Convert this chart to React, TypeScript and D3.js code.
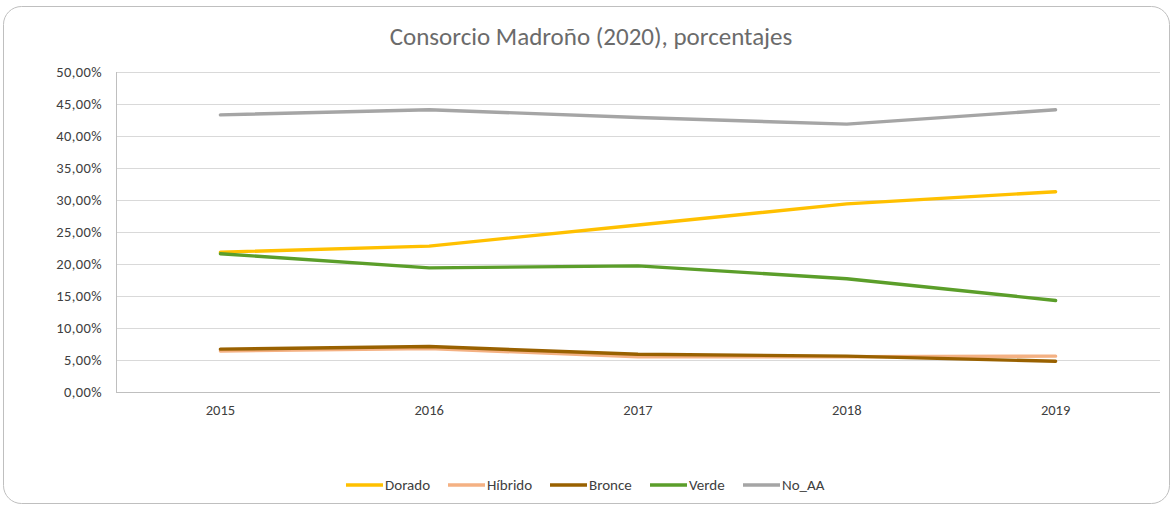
import React from 'react';
import * as d3 from 'd3';

const years = ['2015', '2016', '2017', '2018', '2019'];
const dorado = [21.85, 22.8, 26.1, 29.4, 31.3];
const hibrido = [6.4, 6.8, 5.5, 5.5, 5.6];
const bronce = [6.7, 7.1, 5.9, 5.6, 4.8];
const verde = [21.6, 19.4, 19.7, 17.7, 14.3];
const noAA = [43.3, 44.1, 42.9, 41.85, 44.1];
const yTicks = [0, 5, 10, 15, 20, 25, 30, 35, 40, 45, 50];

const series = [
  { name: 'Dorado', values: dorado, color: '#FFC000' },
  { name: 'Híbrido', values: hibrido, color: '#F4B183' },
  { name: 'Bronce', values: bronce, color: '#996100' },
  { name: 'Verde', values: verde, color: '#5B9E2A' },
  { name: 'No_AA', values: noAA, color: '#A5A5A5' },
];

const W = 1174;
const H = 507;
const margin = { top: 72, right: 14, bottom: 115, left: 116 };

export default function App() {
  const x = d3
    .scalePoint<string>()
    .domain(years)
    .range([margin.left, W - margin.right])
    .padding(0.5);
  const y = d3
    .scaleLinear()
    .domain([0, 50])
    .range([H - margin.bottom, margin.top]);

  const line = d3
    .line<number>()
    .x((_, i) => x(years[i]) as number)
    .y((d) => y(d));

  const fmt = (v: number) => v.toFixed(2).replace('.', ',') + '%';
  const font = 'Calibri, Carlito, "Open Sans", sans-serif';

  const legendX = [346, 448, 550, 650, 743];

  return (
    <svg
      width={W}
      height={H}
      style={{ position: 'absolute', left: 0, top: 0, fontFamily: font }}
    >
      <rect x={0} y={0} width={W} height={H} fill="#fff" />
      <rect
        x={3.5}
        y={6.5}
        width={W - 8}
        height={H - 10}
        rx={18}
        fill="#fff"
        stroke="#bfbfbf"
      />
      <text
        x={591}
        y={45}
        textAnchor="middle"
        fontSize={25}
        fill="#6b6b6b"
      >
        Consorcio Madroño (2020), porcentajes
      </text>

      {yTicks.map((t) => (
        <g key={t}>
          <line
            x1={margin.left}
            x2={W - margin.right}
            y1={Math.round(y(t)) + 0.5}
            y2={Math.round(y(t)) + 0.5}
            stroke={t === 0 ? '#bfbfbf' : '#d9d9d9'}
          />
          <text
            x={102}
            y={y(t) + 4.5}
            textAnchor="end"
            fontSize={14.5}
            letterSpacing={0.4}
            fill="#404040"
          >
            {fmt(t)}
          </text>
        </g>
      ))}
      <line
        x1={margin.left + 0.5}
        x2={margin.left + 0.5}
        y1={margin.top}
        y2={H - margin.bottom}
        stroke="#bfbfbf"
      />

      {years.map((yr) => (
        <text
          key={yr}
          x={x(yr)}
          y={H - margin.bottom + 23}
          textAnchor="middle"
          fontSize={14.5}
          fill="#404040"
        >
          {yr}
        </text>
      ))}

      {series.map((s) => (
        <path
          key={s.name}
          d={line(s.values) || ''}
          fill="none"
          stroke={s.color}
          strokeWidth={3.4}
          strokeLinecap="round"
          strokeLinejoin="round"
        />
      ))}

      {series.map((s, i) => (
        <g key={s.name} transform={`translate(${legendX[i]},485)`}>
          <line x1={0} x2={37} y1={0} y2={0} stroke={s.color} strokeWidth={3.4} />
          <text x={39} y={5} fontSize={15} fill="#404040">
            {s.name}
          </text>
        </g>
      ))}
    </svg>
  );
}
